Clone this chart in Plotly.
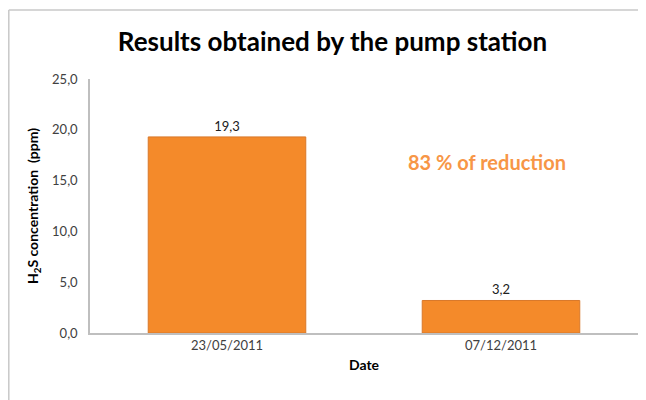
import plotly.graph_objects as go

dates = ["23/05/2011", "07/12/2011"]
h2s_ppm = [19.3, 3.2]
y_ticks = [0, 5, 10, 15, 20, 25]

# the page body adds an 8px offset, so the figure is sized to the visible area
W, H = 638, 392
L, R, T, B = 82, 8, 71, 67
FONT = "Lato, Open Sans, sans-serif"

fig = go.Figure()
fig.add_trace(go.Bar(
    x=dates, y=h2s_ppm,
    marker=dict(color="#F48A2A", line=dict(color="#D9782A", width=1)),
    width=0.575,
    text=h2s_ppm, texttemplate="%{y:.1f}", textposition="outside",
    textfont=dict(family=FONT, size=13, color="#202020"),
    cliponaxis=False,
))

pw = W - L - R
ph = H - T - B

def px_x(x):
    return (x - L) / pw

def px_y(y):
    return (H - B - y) / ph

# border of chart area (left and top lines)
fig.add_shape(type="line", xref="paper", yref="paper",
              x0=px_x(0.8), x1=px_x(0.8), y0=px_y(H), y1=px_y(2),
              line=dict(color="#C8C8C8", width=1.5))
fig.add_shape(type="line", xref="paper", yref="paper",
              x0=px_x(0.8), x1=px_x(W), y0=px_y(2), y1=px_y(2),
              line=dict(color="#C8C8C8", width=1.5))

fig.add_annotation(text="<b>83 % of reduction</b>", xref="paper", yref="paper",
                   x=px_x(479), y=px_y(154), xanchor="center", yanchor="middle",
                   showarrow=False,
                   font=dict(family=FONT, size=20, color="#F79646"))

fig.update_layout(
    width=W, height=H,
    margin=dict(l=L, r=R, t=T, b=B, autoexpand=False),
    paper_bgcolor="white", plot_bgcolor="white",
    separators=",.",
    showlegend=False,
    title=dict(text="<b>Results obtained by the pump station</b>", x=324.5 / W, xanchor="center",
               y=1 - 34 / H, yanchor="middle", automargin=False,
               font=dict(family=FONT, size=26, color="#000000")),
)
fig.update_yaxes(range=[0, 25], tickvals=y_ticks, tickformat=".1f", automargin=False,
                 showline=True, linecolor="#BFBFBF", linewidth=1.5,
                 showgrid=False, zeroline=False, ticks="", ticklabelstandoff=8,
                 tickfont=dict(family=FONT, size=13, color="#404040"),
                 title=dict(text="<b>H<sub>2</sub>S concentration  (ppm)</b>", standoff=10,
                            font=dict(family=FONT, size=14, color="#000000")))
fig.update_xaxes(showline=True, linecolor="#BFBFBF", linewidth=1.5, ticks="", automargin=False,
                 tickfont=dict(family=FONT, size=13, color="#404040"),
                 title=dict(text="<b>Date</b>", standoff=8,
                            font=dict(family=FONT, size=14, color="#000000")))

fig.write_html("out.html")
